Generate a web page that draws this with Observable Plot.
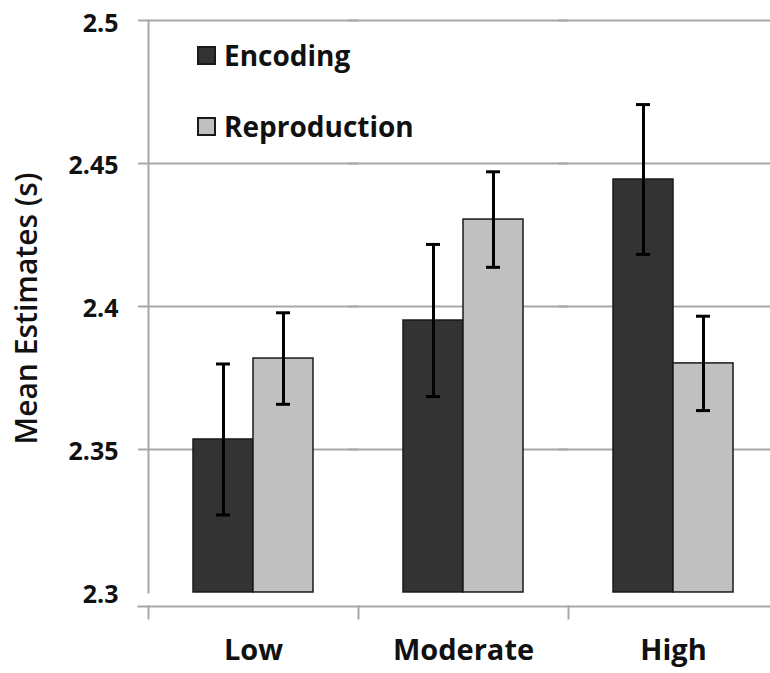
<!DOCTYPE html>
<html>
<head>
<meta charset="utf-8">
<script src="https://cdn.jsdelivr.net/npm/d3@7"></script>
<script src="https://cdn.jsdelivr.net/npm/@observablehq/plot@0.6"></script>
<style>
  html, body { margin: 0; padding: 0; background: #fff; }
  #wrap { position: relative; width: 770px; height: 673px; font-family: 'Open Sans', sans-serif; }
  .leg { position: absolute; display: flex; align-items: center; font-size: 28px; font-weight: 700; color: #111; line-height: 28px; }
  .sw { width: 19px; height: 19px; border: 2px solid #1a1a1a; margin-right: 8px; box-sizing: border-box; }
</style>
</head>
<body>
<div id="wrap"></div>
<script>
const categories = ["Low", "Moderate", "High"];
const series = ["Encoding", "Reproduction"];
const encodingMeans = [2.3535, 2.3951, 2.4444];
const encodingErrors = [0.0264, 0.0266, 0.0262];
const reproductionMeans = [2.3818, 2.4304, 2.3801];
const reproductionErrors = [0.0160, 0.0167, 0.0165];
const yTicks = [2.3, 2.35, 2.4, 2.45, 2.5];
const yTickLabels = ["2.3", "2.35", "2.4", "2.45", "2.5"];
const gridValues = [2.35, 2.4, 2.45, 2.5];
const yDomain = [2.2951, 2.5];
const baseline = 2.3;
const seriesColors = ["#333333", "#c0c0c0"];
const yTitle = "Mean Estimates (s)";

const rows = categories.flatMap((c, i) => [
  {cat: c, series: series[0], mean: encodingMeans[i], err: encodingErrors[i]},
  {cat: c, series: series[1], mean: reproductionMeans[i], err: reproductionErrors[i]}
]);

const axisGray = "#a8a8a8";

const chart = Plot.plot({
  width: 770,
  height: 673,
  marginLeft: 148,
  marginRight: -8,
  marginTop: 20,
  marginBottom: 67,
  style: {fontFamily: "'Open Sans', sans-serif", background: "white", color: "#111"},
  fx: {domain: categories, padding: 0, label: null},
  x: {domain: series, paddingInner: 0, paddingOuter: 0.75, axis: null},
  y: {domain: yDomain, axis: null},
  color: {domain: series, range: seriesColors},
  marks: [
    Plot.ruleY(gridValues, {stroke: axisGray, strokeWidth: 2, insetLeft: -10}),
    Plot.frame({anchor: "left", facet: "super", stroke: axisGray, strokeWidth: 2, insetBottom: 14}),
    Plot.frame({anchor: "bottom", facet: "super", stroke: axisGray, strokeWidth: 2, insetLeft: -10}),
    Plot.frame({anchor: "left", stroke: axisGray, strokeWidth: 2, insetTop: 586, insetBottom: -12}),
    Plot.barY(rows, {fx: "cat", x: "series", y1: baseline, y2: "mean", fill: "series", stroke: "#1a1a1a", strokeWidth: 1.5}),
    Plot.ruleX(rows, {fx: "cat", x: "series", y1: d => d.mean - d.err, y2: d => d.mean + d.err, stroke: "#000", strokeWidth: 3}),
    Plot.tickY(rows, {fx: "cat", x: "series", y: d => d.mean + d.err, stroke: "#000", strokeWidth: 3, insetLeft: 23, insetRight: 23}),
    Plot.tickY(rows, {fx: "cat", x: "series", y: d => d.mean - d.err, stroke: "#000", strokeWidth: 3, insetLeft: 23, insetRight: 23}),
    Plot.axisY(yTicks, {tickFormat: (d, i) => yTickLabels[i], tickSize: 0, tickPadding: 30, fontSize: 25, fontWeight: 700, dy: 3, label: null}),
    Plot.axisFx({anchor: "bottom", tickSize: 0, tickPadding: 33, fontSize: 29, fontWeight: 700, label: null}),
    Plot.text([yTitle], {frameAnchor: "left", rotate: -90, dx: -121, dy: 131, fontSize: 30, fontWeight: 600, facet: "super"})
  ]
});

const wrap = document.getElementById("wrap");
wrap.appendChild(chart);

const legendTops = [41, 112];
series.forEach((s, i) => {
  const item = document.createElement("div");
  item.className = "leg";
  item.style.left = "197px";
  item.style.top = legendTops[i] + "px";
  const sw = document.createElement("div");
  sw.className = "sw";
  sw.style.background = seriesColors[i];
  item.appendChild(sw);
  const t = document.createElement("span");
  t.textContent = s;
  item.appendChild(t);
  wrap.appendChild(item);
});
</script>
</body>
</html>
